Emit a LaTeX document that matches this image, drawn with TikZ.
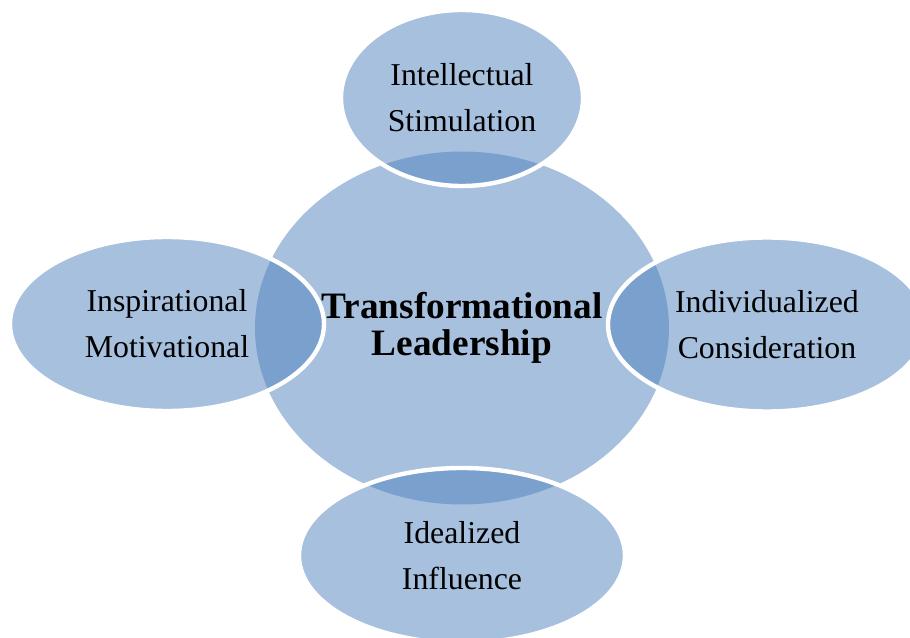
\documentclass[tikz,border=0pt]{standalone}
\usepackage{fontspec}
\setmainfont{Liberation Serif}
\usepackage{tikz}
\usetikzlibrary{shapes,positioning}
\definecolor{leadblue}{HTML}{4F81BD}

\tikzset{
  bubble/.style={ellipse, fill=leadblue, fill opacity=0.5, text opacity=1,
    draw=white, line width=2.5pt, inner sep=0pt, outer sep=0pt, align=center,
    font=\fontsize{18.1}{26.2}\selectfont},
  hub/.style={bubble, draw=none, font=\fontsize{21.2}{21}\selectfont\bfseries}
}

\begin{document}
\begin{tikzpicture}
			\useasboundingbox (-9.24,-6.23) rectangle (8.96,6.53);
			
			% Central circle
			\node[hub, minimum width=8.28cm, minimum height=7.06cm] (lead) at (0,-0.03) {Transformational\\Leadership};
			
			% Four components around it
			\node[bubble, minimum width=4.84cm, minimum height=3.52cm] (stim) at (0,4.57) {Intellectual\\Stimulation};
			\node[bubble, minimum width=6.28cm, minimum height=3.48cm] (motiv) at (-5.9,0.05) {Inspirational\\Motivational};
			\node[bubble, minimum width=6.36cm, minimum height=3.48cm] (consid) at (6.1,0.04) {Individualized\\Consideration};
			\node[bubble, minimum width=6.52cm, minimum height=3.5cm] (infl) at (0,-4.58) {Idealized\\Influence};
		\end{tikzpicture}
\end{document}
